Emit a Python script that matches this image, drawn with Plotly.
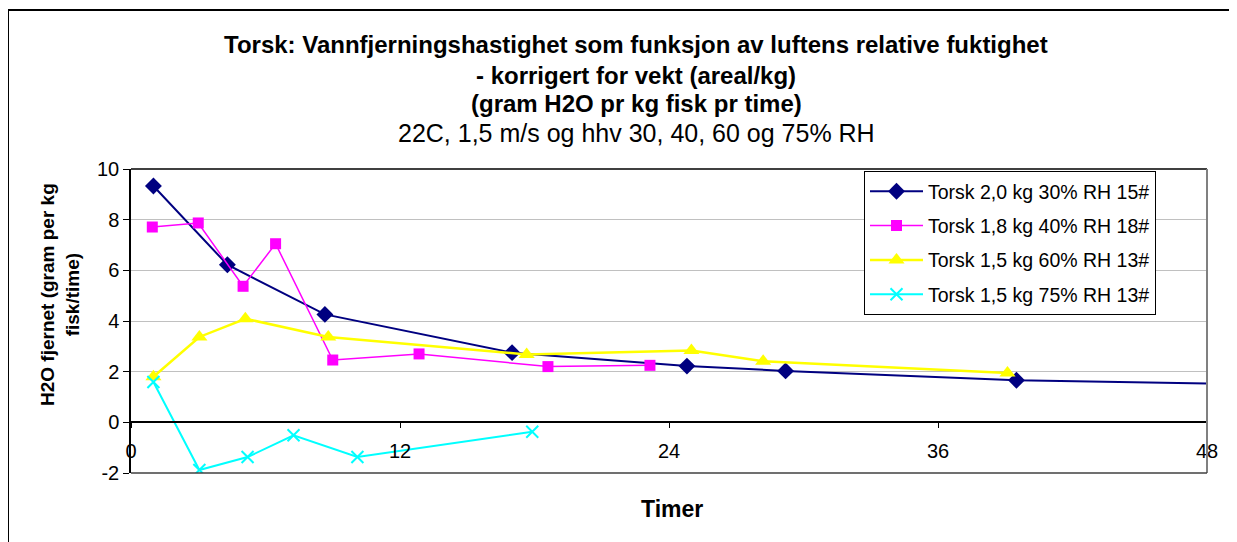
import plotly.graph_objects as go

# ---- data ----
navy_name = "Torsk 2,0 kg 30% RH 15#"
navy_x = [1.0, 4.3, 8.65, 17.0, 24.8, 29.2, 39.5, 63.0]
navy_y = [9.33, 6.22, 4.26, 2.75, 2.22, 2.03, 1.66, 1.30]

mag_name = "Torsk 1,8 kg 40% RH 18#"
mag_x = [0.95, 3.0, 5.0, 6.45, 9.0, 12.85, 18.6, 23.15]
mag_y = [7.71, 7.87, 5.37, 7.05, 2.46, 2.70, 2.20, 2.25]

yel_name = "Torsk 1,5 kg 60% RH 13#"
yel_x = [1.0, 3.05, 5.1, 8.8, 17.65, 25.0, 28.2, 39.1]
yel_y = [1.80, 3.37, 4.09, 3.37, 2.68, 2.84, 2.41, 1.95]

cyan_name = "Torsk 1,5 kg 75% RH 13#"
cyan_x = [1.0, 3.05, 5.2, 7.25, 10.1, 17.9]
cyan_y = [1.59, -1.88, -1.37, -0.51, -1.37, -0.37]

x_ticks = [0, 12, 24, 36, 48]
y_ticks = [-2, 0, 2, 4, 6, 8, 10]
x_tick_text = ["0", "12", "24", "36", "48"]
y_tick_text = ["-2", "0", "2", "4", "6", "8", "10"]

title_lines = [
    "<b>Torsk: Vannfjerningshastighet som funksjon av luftens relative fuktighet</b>",
    "<b>- korrigert for vekt (areal/kg)</b>",
    "<b>(gram H2O pr kg fisk pr time)</b>",
    "22C, 1,5 m/s og hhv 30, 40, 60 og 75% RH",
]
y_title = "<b>H2O fjernet (gram per kg<br>fisk/time)</b>"
x_title = "<b>Timer</b>"

FONT = "Liberation Sans, Arial, sans-serif"

# ---- layout geometry (page pixels; the page body adds an 8px offset) ----
OFF = 8
W, H = 1237 - OFF, 542 - OFF
PLOT_L, PLOT_R, PLOT_T, PLOT_B = 131, 1207, 169, 473   # page pixels
L, T = PLOT_L - OFF, PLOT_T - OFF
R, B = W - (PLOT_R - OFF), H - (PLOT_B - OFF)
PW, PH = W - L - R, H - T - B
y_min, y_max = -2, 10


def py(pix):
    """page pixel row -> paper y"""
    return (PLOT_B - pix) / PH


def px(pix):
    """page pixel column -> paper x"""
    return (pix - PLOT_L) / PW


fig = go.Figure()
fig.add_trace(go.Scatter(
    x=navy_x, y=navy_y, name=navy_name, mode="lines+markers", legendgroup="a",
    line=dict(color="#000080", width=2),
    marker=dict(symbol="diamond", size=13, color="#000080")))
fig.add_trace(go.Scatter(
    x=mag_x, y=mag_y, name=mag_name, mode="lines+markers", legendgroup="b",
    line=dict(color="#ff00ff", width=1.5),
    marker=dict(symbol="square", size=11, color="#ff00ff")))
fig.add_trace(go.Scatter(
    x=yel_x, y=yel_y, name=yel_name, mode="lines+markers", legendgroup="c",
    line=dict(color="#ffff00", width=2.5),
    marker=dict(symbol="triangle-up", size=14, color="#ffff00")))
fig.add_trace(go.Scatter(
    x=cyan_x, y=cyan_y, name=cyan_name, mode="lines+markers", legendgroup="d",
    line=dict(color="#00ffff", width=2),
    marker=dict(symbol="x-thin", size=12, color="#00ffff",
                line=dict(color="#00ffff", width=2))))

annotations = []
for txt, pix, size in zip(title_lines, [44, 75, 104, 133], [24, 24, 24, 25]):
    annotations.append(dict(text=txt, x=px(636), xref="paper", xanchor="center",
                            y=py(pix), yref="paper", yanchor="middle",
                            showarrow=False,
                            font=dict(family=FONT, size=size, color="black")))
annotations.append(dict(text=x_title, x=px(672), xref="paper", xanchor="center",
                        y=py(509), yref="paper", yanchor="middle", showarrow=False,
                        font=dict(family=FONT, size=23, color="black")))
annotations.append(dict(text=y_title, x=px(60), xref="paper", xanchor="center",
                        y=py(295), yref="paper", yanchor="middle", showarrow=False,
                        textangle=-90,
                        font=dict(family=FONT, size=19, color="black")))

shapes = [
    # outer chart border (left + top visible)
    dict(type="rect", xref="paper", yref="paper", x0=px(8), x1=px(1300),
         y0=py(620), y1=py(10), line=dict(color="black", width=2)),
    # plot-area border
    dict(type="line", xref="paper", yref="paper", x0=0, x1=1, y0=1, y1=1,
         line=dict(color="black", width=1.5)),
    dict(type="line", xref="paper", yref="paper", x0=1, x1=1, y0=0, y1=1,
         line=dict(color="#808080", width=2)),
    dict(type="line", xref="paper", yref="paper", x0=0, x1=1, y0=0, y1=0,
         line=dict(color="#404040", width=1.5)),
]

fig.update_layout(
    width=W, height=H,
    margin=dict(l=L, r=R, t=T, b=B, pad=0, autoexpand=False),
    paper_bgcolor="white", plot_bgcolor="white",
    font=dict(family=FONT, size=20, color="black"),
    showlegend=True,
    legend=dict(x=px(864), y=py(171), xanchor="left", yanchor="top",
                bordercolor="black", borderwidth=1, bgcolor="white",
                font=dict(family=FONT, size=19.5, color="black"),
                traceorder="grouped", tracegroupgap=6, itemwidth=53),
    xaxis=dict(range=[0, 48], tickvals=x_ticks, ticktext=x_tick_text,
               anchor="free", position=(0 - y_min) / (y_max - y_min),
               showline=True, linecolor="black", linewidth=1.5,
               ticks="outside", ticklen=5, tickcolor="black", automargin=False,
               showgrid=False, zeroline=False, ticklabelstandoff=6,
               tickfont=dict(family=FONT, size=20)),
    yaxis=dict(range=[y_min, y_max], tickvals=y_ticks, ticktext=y_tick_text,
               automargin=False,
               showline=True, linecolor="black", linewidth=1.5,
               ticks="outside", ticklen=6, tickcolor="black",
               showgrid=True, gridcolor="#c0c0c0", gridwidth=1.2, zeroline=False,
               tickfont=dict(family=FONT, size=20)),
    annotations=annotations, shapes=shapes,
)

fig.write_html("out.html")
